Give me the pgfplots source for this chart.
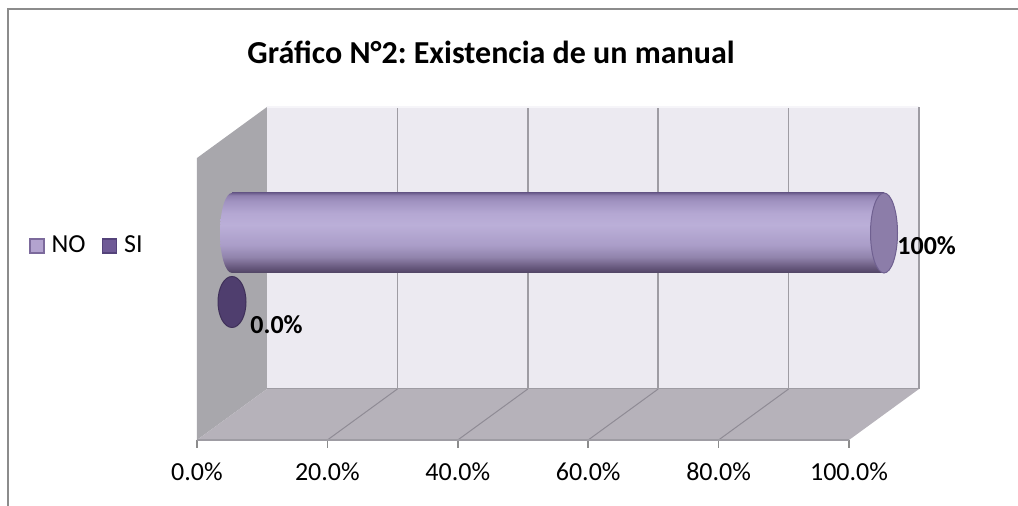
\documentclass[border=0pt]{standalone}
\usepackage{pgfplots}
\pgfplotsset{compat=1.18}
\usepackage{fontspec}
\setmainfont{Carlito}
\frenchspacing
\usetikzlibrary{shapes.geometric}
\definecolor{backwall}{HTML}{ECEAF1}
\definecolor{floorc}{HTML}{B6B2BA}
\definecolor{leftwall}{HTML}{A8A7AC}
\definecolor{gridc}{HTML}{9E9CA3}
\definecolor{floorln}{HTML}{8F8B95}
\definecolor{capFill}{HTML}{8C7DA9}
\definecolor{capEdge}{HTML}{6F6090}
\definecolor{siFill}{HTML}{4F3E6E}
\definecolor{siEdge}{HTML}{3F3059}
\definecolor{legNO}{HTML}{B3A3CF}
\definecolor{legNOe}{HTML}{7C6A9C}
\definecolor{legSI}{HTML}{6F5A96}
\definecolor{legSIe}{HTML}{54437A}
\definecolor{framec}{HTML}{8C8C8C}
\definecolor{topedge}{HTML}{F6F5F9}
\pgfdeclareverticalshading{cyl}{100bp}{%
  color(0bp)=(rgb,255:red,79;green,67;blue,99);
  color(25bp)=(rgb,255:red,79;green,67;blue,99);
  color(29bp)=(rgb,255:red,106;green,91;blue,128);
  color(35bp)=(rgb,255:red,145;green,132;blue,172);
  color(42.5bp)=(rgb,255:red,170;green,157;blue,200);
  color(55bp)=(rgb,255:red,187;green,175;blue,216);
  color(62.5bp)=(rgb,255:red,180;green,167;blue,210);
  color(70bp)=(rgb,255:red,160;green,146;blue,192);
  color(73.5bp)=(rgb,255:red,143;green,128;blue,175);
  color(75bp)=(rgb,255:red,111;green,96;blue,144);
  color(100bp)=(rgb,255:red,111;green,96;blue,144)}
\begin{document}
\begin{tikzpicture}
\path[use as bounding box] (0,0) rectangle (509pt,253pt);
\draw[framec, line width=1pt] (4pt,0) -- (4pt,248.5pt) -- (509.5pt,248.5pt);
% frame axis (front plane)
\begin{axis}[
  at={(98.5pt,33pt)}, anchor=south west,
  scale only axis, width=326pt, height=141pt,
  xmin=0, xmax=100, ymin=0, ymax=282,
  clip=false,
  axis line style={draw=none},
  ytick=\empty,
  xtick={0,20,40,60,80,100},
  xticklabels={0.0\%,20.0\%,40.0\%,60.0\%,80.0\%,100.0\%},
  xtick pos=bottom,
  tick align=outside,
  major tick length=4pt,
  xtick style={draw=framec, line width=0.75pt},
  xticklabel style={font=\fontsize{13}{15}\selectfont, yshift=-4pt},
  title={\bfseries\fontsize{16}{19}\selectfont Gráfico N°2: Existencia de un manual},
  title style={at={(axis description cs:0.451,1.294)}, anchor=base},
  legend columns=2,
  legend style={at={(axis description cs:-0.258,0.688)}, anchor=west,
    draw=none, fill=none, inner sep=0pt,
    font=\fontsize{13}{15}\selectfont,
    /tikz/every even column/.append style={column sep=6.5pt},
    nodes={inner sep=1.5pt}},
  legend image code/.code={\draw[#1] (0pt,-3.5pt) rectangle (7pt,3.5pt);
    \path (9pt,0pt);},
]
% walls
\fill[leftwall] (axis cs:0,0) -- (axis cs:10.736,51) -- (axis cs:10.736,333) -- (axis cs:0,282) -- cycle;
\fill[backwall] (axis cs:10.736,51) rectangle (axis cs:110.736,333);
\fill[floorc] (axis cs:0,0) -- (axis cs:100,0) -- (axis cs:110.736,51) -- (axis cs:10.736,51) -- cycle;
\draw[gridc, line width=0.75pt] (axis cs:30.736,51) -- (axis cs:30.736,333);
\draw[gridc, line width=0.75pt] (axis cs:50.736,51) -- (axis cs:50.736,333);
\draw[gridc, line width=0.75pt] (axis cs:70.736,51) -- (axis cs:70.736,333);
\draw[gridc, line width=0.75pt] (axis cs:90.736,51) -- (axis cs:90.736,333);
\draw[floorln, line width=0.5pt] (axis cs:20,0) -- (axis cs:30.736,51);
\draw[floorln, line width=0.5pt] (axis cs:40,0) -- (axis cs:50.736,51);
\draw[floorln, line width=0.5pt] (axis cs:60,0) -- (axis cs:70.736,51);
\draw[floorln, line width=0.5pt] (axis cs:80,0) -- (axis cs:90.736,51);
\draw[topedge, line width=1pt] (axis cs:10.736,333) -- (axis cs:110.736,333);
\draw[gridc, line width=1.25pt] (axis cs:110.736,51) -- (axis cs:110.736,333);
\draw[gridc, line width=0.5pt] (axis cs:10.736,51) -- (axis cs:110.736,51);
\draw[gridc, line width=0.75pt] (axis cs:0,0) -- (axis cs:100,0);
\addlegendimage{fill=legNO, draw=legNOe, line width=0.75pt}
\addlegendentry{NO}
\addlegendimage{fill=legSI, draw=legSIe, line width=0.75pt}
\addlegendentry{SI}
\end{axis}
% bars axis (middle depth)
\begin{axis}[
  at={(116pt,45.75pt)}, anchor=south west,
  scale only axis, width=326pt, height=141pt,
  xmin=0, xmax=100, ymin=0, ymax=282,
  clip=false, hide axis,
]
% SI (0 %)
\addplot[draw=none, mark=none, nodes near coords={},
  every node near coord/.style={ellipse, draw=siEdge, line width=0.5pt, fill=siFill,
    minimum width=14pt, minimum height=25.5pt, inner sep=0pt, anchor=center}]
  coordinates {(0,112.5)};
% NO left end
\addplot[draw=none, mark=none, nodes near coords={},
  every node near coord/.style={ellipse, draw=none, shade, shading=cyl,
    minimum width=12pt, minimum height=40pt, inner sep=0pt, anchor=center}]
  coordinates {(0,181.5)};
% NO body
\addplot[xbar, bar width=40pt, draw=none, shade, shading=cyl]
  coordinates {(100,181.5)};
% NO right cap
\addplot[draw=none, mark=none, nodes near coords={},
  every node near coord/.style={ellipse, draw=capEdge, line width=0.5pt, fill=capFill,
    minimum width=13.5pt, minimum height=40pt, inner sep=0pt, anchor=center}]
  coordinates {(100,181.5)};
% labels
\addplot[draw=none, mark=none, point meta=explicit symbolic, nodes near coords,
  every node near coord/.style={anchor=west, inner sep=0pt, xshift=6.5pt, yshift=-6.5pt,
    font=\bfseries\fontsize{13}{15}\selectfont}]
  coordinates {(100,181.5) [100\%]};
\addplot[draw=none, mark=none, point meta=explicit symbolic, nodes near coords,
  every node near coord/.style={anchor=west, inner sep=0pt, xshift=9pt, yshift=-11.5pt,
    font=\bfseries\fontsize{13}{15}\selectfont}]
  coordinates {(0,112.5) [0.0\%]};
\end{axis}
\end{tikzpicture}
\end{document}
